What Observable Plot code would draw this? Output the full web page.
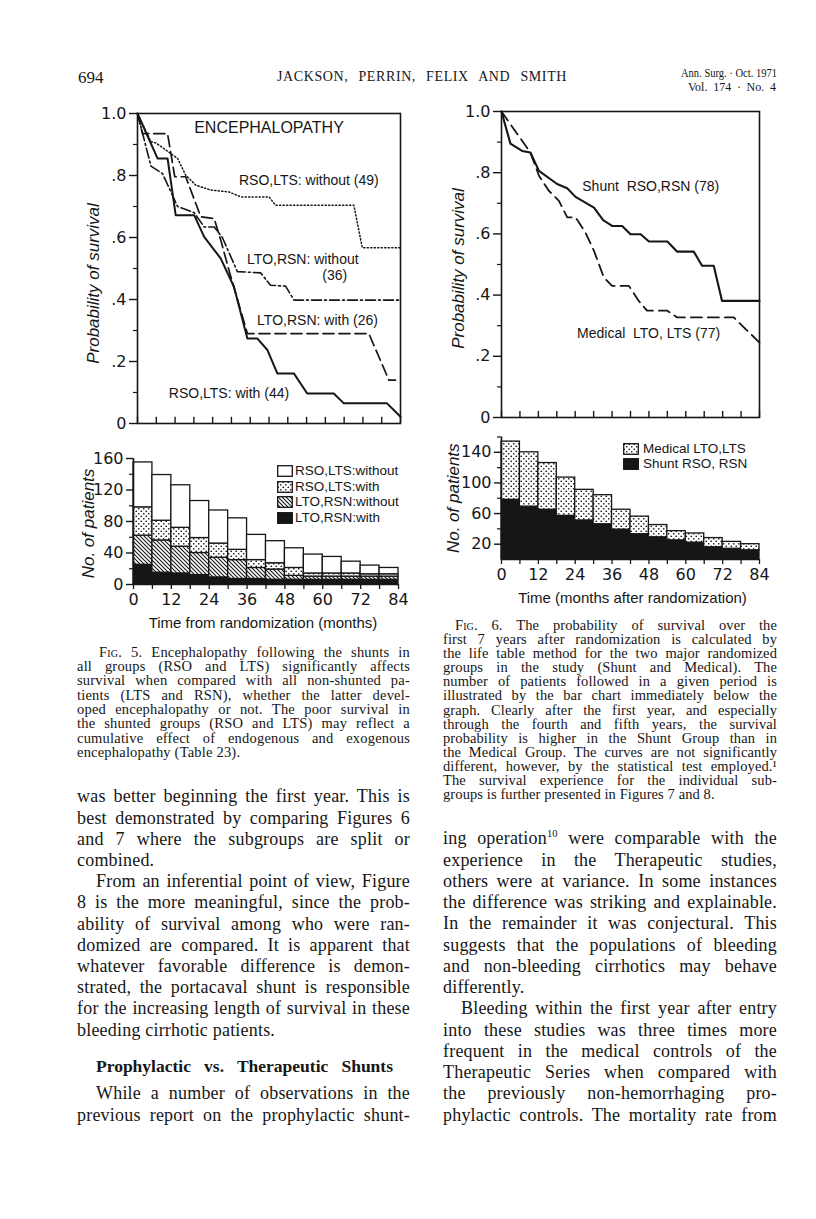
<!DOCTYPE html>
<html><head><meta charset="utf-8">
<script src="https://cdn.jsdelivr.net/npm/d3@7"></script>
<script src="https://cdn.jsdelivr.net/npm/@observablehq/plot@0.6"></script>
<style>
html,body{margin:0;padding:0;background:#fff}
#page{position:relative;width:816px;height:1219px;overflow:hidden;background:#fff;color:#161616}
.sw{position:absolute}
.lg{position:absolute;font-family:"Liberation Sans",sans-serif;font-size:13.5px;white-space:nowrap;line-height:14px;color:#161616}
</style></head>
<body><div id="page">
<svg width="0" height="0" style="position:absolute;left:0;top:0">
 <defs>
  <pattern id="hatch" patternUnits="userSpaceOnUse" width="4" height="4">
    <rect width="4" height="4" fill="white"/>
    <path d="M-1,-1 L5,5 M3,-1 L5,1 M-1,3 L1,5" stroke="#161616" stroke-width="1.1"/>
  </pattern>
  <pattern id="dots" patternUnits="userSpaceOnUse" width="5" height="5">
    <rect width="5" height="5" fill="white"/>
    <circle cx="1.25" cy="1.25" r="0.85" fill="#161616"/>
    <circle cx="3.75" cy="3.75" r="0.85" fill="#161616"/>
  </pattern>
 </defs>
</svg>
</div>
<script>
// ---------- DATA ----------
// Fig. 5 survival curves (months, probability)
const rsoLtsWithoutT = [0, 4.3, 5.9, 12.8, 15.4, 18.6, 23.4, 29.2, 33, 42, 44.1, 69.1, 71.8, 84];
const rsoLtsWithoutS = [1, .909, .905, .855, .801, .769, .753, .747, .731, .731, .704, .704, .567, .567];
const ltoRsnWithoutT = [0, 4.3, 8, 12.8, 18.1, 21.3, 24.5, 27.1, 31.9, 39.3, 42.5, 47.3, 50, 84];
const ltoRsnWithoutS = [1, .83, .806, .70, .68, .634, .634, .60, .49, .486, .446, .443, .398, .398];
const ltoRsnWithT = [0, 1.6, 9.6, 11.9, 15.4, 20.2, 24.5, 26.6, 29.2, 35.1, 73.9, 80.3, 82.4];
const ltoRsnWithS = [1, .935, .935, .796, .796, .667, .661, .591, .495, .29, .29, .14, .14];
const rsoLtsWithT = [0, 6.4, 9.6, 12.2, 18.1, 21.3, 26.6, 30.8, 35.1, 38.3, 41.5, 44.7, 50, 54.2, 62.7, 65.9, 79.7, 84];
const rsoLtsWithS = [1, .855, .855, .672, .672, .602, .532, .441, .274, .274, .237, .161, .161, .097, .097, .065, .065, .022];

// Fig. 5 curve labels
const labels5 = ["RSO,LTS: without (49)", "LTO,RSN: without", "(36)", "LTO,RSN: with (26)", "RSO,LTS: with (44)"];
const labels5T = [32.4, 35.0, 59.0, 38.2, 10.0];
const labels5S = [.784, .53, .476, .332, .096];
const title5 = "ENCEPHALOPATHY";

// Fig. 5 bar chart: number of patients per 6-month interval
const intervalStart = [0, 6, 12, 18, 24, 30, 36, 42, 48, 54, 60, 66, 72, 78];
const ltoRsnWithN    = [25, 15, 14, 12, 9, 7, 7, 6, 6, 6, 6, 6, 6, 6];
const ltoRsnWithoutN = [37, 41, 34, 28, 25, 24, 14, 13, 5, 4, 4, 4, 4, 4];
const rsoLtsWithN    = [36, 25, 24, 19, 18, 13, 10, 8, 10, 4, 4, 4, 3, 3];
const rsoLtsWithoutN = [57, 58, 54, 47, 42, 40, 32, 28, 25, 24, 21, 15, 11, 8];
const legend5 = ["RSO,LTS:without", "RSO,LTS:with", "LTO,RSN:without", "LTO,RSN:with"];

// Fig. 6 survival curves
const shuntT = [0, 2.9, 6.7, 9.4, 12.2, 18.1, 21.4, 24.1, 30.1, 33.1, 36, 39.3, 42, 45.3, 48, 54, 57.2, 62.6, 65.3, 69.1, 71.8, 84];
const shuntS = [1, .895, .871, .866, .806, .763, .749, .721, .686, .645, .626, .626, .599, .599, .575, .575, .542, .542, .496, .496, .381, .381];
const medicalT = [0, 9.4, 12.2, 15.4, 18.7, 21.4, 24.1, 27.3, 30.1, 33.3, 36, 41.5, 44.7, 47.4, 54, 57.2, 75.6, 84];
const medicalS = [1, .866, .79, .741, .708, .654, .654, .605, .545, .458, .43, .43, .381, .349, .349, .327, .327, .245];
const labels6 = ["Shunt  RSO,RSN (78)", "Medical  LTO, LTS (77)"];
const labels6T = [26.3, 24.6];
const labels6S = [.755, .275];

// Fig. 6 bar chart
const shuntN   = [78, 69, 65, 57, 51, 46, 39, 33, 29, 25, 22, 16, 14, 12];
const medicalN = [76, 71, 61, 50, 40, 38, 26, 23, 16, 12, 12, 12, 9, 8];
const legend6 = ["Medical  LTO,LTS", "Shunt  RSO, RSN"];

// Axis ticks and titles
const monthTicks = [0, 6, 12, 18, 24, 30, 36, 42, 48, 54, 60, 66, 72, 78, 84];
const survMajor = [0, .2, .4, .6, .8, 1];
const survMinor = [.1, .3, .5, .7, .9];
const bar5Major = [0, 40, 80, 120, 160];
const bar5Minor = [20, 60, 100, 140];
const bar6Major = [20, 60, 100, 140];
const bar6Minor = [40, 80, 120, 160];
const ySurvTitle = "Probability of survival";
const yBarTitle = "No. of patients";
const x5Title = "Time from randomization (months)";
const x6Title = "Time (months after randomization)";

// Page text
const headerLeft = "694";
const headerMid = "JACKSON, PERRIN, FELIX AND SMITH";
const headerRight1 = "Ann. Surg. · Oct. 1971";
const headerRight2 = "Vol. 174 · No. 4";
const caption5 = [
 ["<span style='font-variant:small-caps'>Fig.</span> 5. Encephalopathy following the shunts in","i"],
 ["all groups (RSO and LTS) significantly affects","j"],
 ["survival when compared with all non-shunted pa-","j"],
 ["tients (LTS and RSN), whether the latter devel-","j"],
 ["oped encephalopathy or not. The poor survival in","j"],
 ["the shunted groups (RSO and LTS) may reflect a","j"],
 ["cumulative effect of endogenous and exogenous","j"],
 ["encephalopathy (Table 23).","l"]];
const caption6 = [
 ["<span style='font-variant:small-caps'>Fig.</span> 6. The probability of survival over the","i"],
 ["first 7 years after randomization is calculated by","j"],
 ["the life table method for the two major randomized","j"],
 ["groups in the study (Shunt and Medical). The","j"],
 ["number of patients followed in a given period is","j"],
 ["illustrated by the bar chart immediately below the","j"],
 ["graph. Clearly after the first year, and especially","j"],
 ["through the fourth and fifth years, the survival","j"],
 ["probability is higher in the Shunt Group than in","j"],
 ["the Medical Group. The curves are not significantly","j"],
 ["different, however, by the statistical test employed.¹","j"],
 ["The survival experience for the individual sub-","j"],
 ["groups is further presented in Figures 7 and 8.","l"]];
const bodyLeft = [
 ["was better beginning the first year. This is","j"],
 ["best demonstrated by comparing Figures 6","j"],
 ["and 7 where the subgroups are split or","j"],
 ["combined.","l"],
 ["From an inferential point of view, Figure","i"],
 ["8 is the more meaningful, since the prob-","j"],
 ["ability of survival among who were ran-","j"],
 ["domized are compared. It is apparent that","j"],
 ["whatever favorable difference is demon-","j"],
 ["strated, the portacaval shunt is responsible","j"],
 ["for the increasing length of survival in these","j"],
 ["bleeding cirrhotic patients.","l"]];
const heading = "Prophylactic vs. Therapeutic Shunts";
const bodyLeft2 = [
 ["While a number of observations in the","i"],
 ["previous report on the prophylactic shunt-","j"]];
const bodyRight = [
 ["ing operation<sup style='font-size:58%;line-height:0'>10</sup> were comparable with the","j"],
 ["experience in the Therapeutic studies,","j"],
 ["others were at variance. In some instances","j"],
 ["the difference was striking and explainable.","j"],
 ["In the remainder it was conjectural. This","j"],
 ["suggests that the populations of bleeding","j"],
 ["and non-bleeding cirrhotics may behave","j"],
 ["differently.","l"],
 ["Bleeding within the first year after entry","i"],
 ["into these studies was three times more","j"],
 ["frequent in the medical controls of the","j"],
 ["Therapeutic Series when compared with","j"],
 ["the previously non-hemorrhaging pro-","j"],
 ["phylactic controls. The mortality rate from","j"]];

// ---------- HELPERS ----------
const page = document.getElementById("page");
const ink = "#161616";
function put(node, left, top) {
  node.style.position = "absolute"; node.style.left = left + "px"; node.style.top = top + "px";
  page.appendChild(node);
}
function textLine(html, left, yc, width, fs, o = {}) {
  const lh = o.lh || Math.round(fs * 1.25);
  const div = document.createElement("div");
  div.style.cssText = `position:absolute;left:${left}px;top:${yc - lh / 2}px;font-size:${fs}px;line-height:${lh}px;white-space:nowrap;font-family:${o.font || '"Liberation Serif", serif'};color:${ink};`;
  if (o.weight) div.style.fontWeight = o.weight;
  if (o.ls) div.style.letterSpacing = o.ls + "px";
  const span = document.createElement("span");
  span.innerHTML = html;
  div.appendChild(span);
  page.appendChild(div);
  const w = span.getBoundingClientRect().width;
  if (o.justify && width) {
    if (w > width) { div.style.transformOrigin = "0 50%"; div.style.transform = `scaleX(${width / w})`; }
    else {
      const n = (span.textContent.match(/ /g) || []).length;
      if (n) span.style.wordSpacing = ((width - w) / n) + "px";
    }
  }
  return div;
}
function block(lines, left, width, y0, step, fs, indent, ls) {
  lines.forEach(([t, f], i) => {
    const ind = f.startsWith("i") ? indent : 0;
    textLine(t, left + ind, y0 + i * step, width - ind, fs, {justify: f !== "l", lh: step, ls});
  });
}
const pts = (T, S) => T.map((t, i) => ({t, s: S[i]}));
const survFormat = d => d === 1 ? "1.0" : d === 0 ? "0" : String(d).replace(/^0/, "");
const baseStyle = {fontFamily: "DejaVu Sans", fontSize: "16px", color: ink, background: "transparent", overflow: "visible"};
const lbl = {fontFamily: "Liberation Sans", fontSize: 14, fill: ink};
const yTitle = {text: d => d, frameAnchor: "left", rotate: -90, textAnchor: "middle", lineAnchor: "middle", fontFamily: "Liberation Sans", fontStyle: "italic", fontSize: 17, fill: ink};
const xTitle = {text: d => d, frameAnchor: "bottom", textAnchor: "middle", lineAnchor: "middle", fontFamily: "Liberation Sans", fontSize: 15, fill: ink};

// ---------- FIG 5 SURVIVAL ----------
const lab5 = labels5.map((label, i) => ({label, t: labels5T[i], s: labels5S[i]}));
const fig5 = Plot.plot({
  width: 380, height: 353, marginLeft: 97, marginRight: 20, marginTop: 23, marginBottom: 20,
  style: baseStyle,
  x: {domain: [0, 84], axis: null}, y: {domain: [0, 1]},
  marks: [
    Plot.frame({stroke: ink, strokeWidth: 1.6}),
    Plot.axisY(survMajor, {tickFormat: survFormat, tickSize: 8, tickPadding: 3, label: null, strokeWidth: 1.4}),
    Plot.axisY(survMinor, {tickFormat: () => "", tickSize: 4, label: null, strokeWidth: 1.2}),
    Plot.ruleX(monthTicks, {y1: 0, y2: 0.02, stroke: ink, strokeWidth: 1.4}),
    Plot.line(pts(rsoLtsWithoutT, rsoLtsWithoutS), {x: "t", y: "s", stroke: ink, strokeWidth: 1.5, strokeDasharray: "1.2,2.3"}),
    Plot.line(pts(ltoRsnWithoutT, ltoRsnWithoutS), {x: "t", y: "s", stroke: ink, strokeWidth: 1.6, strokeDasharray: "10,3,2,3"}),
    Plot.line(pts(ltoRsnWithT, ltoRsnWithS), {x: "t", y: "s", stroke: ink, strokeWidth: 1.7, strokeDasharray: "11,5"}),
    Plot.line(pts(rsoLtsWithT, rsoLtsWithS), {x: "t", y: "s", stroke: ink, strokeWidth: 2}),
    Plot.text(lab5, {x: "t", y: "s", text: "label", textAnchor: "start", ...lbl}),
    Plot.text([title5], {text: d => d, frameAnchor: "top", lineAnchor: "middle", dy: 14, fontFamily: "Liberation Sans", fontSize: 16, fill: ink}),
    Plot.text([ySurvTitle], {...yTitle, dx: -44, dy: 15})
  ]
});
put(fig5, 40, 90);

// ---------- FIG 5 BARS ----------
const fills5 = ["#161616", "url(#hatch)", "url(#dots)", "white"];
const comps5 = [ltoRsnWithN, ltoRsnWithoutN, rsoLtsWithN, rsoLtsWithoutN];
const rows5 = [];
intervalStart.forEach((t0, i) => {
  let acc = 0;
  comps5.forEach((arr, k) => { rows5.push({t0, t1: t0 + 6, y0: acc, y1: acc + arr[i], fill: fills5[k]}); acc += arr[i]; });
});
const bars5 = Plot.plot({
  width: 378, height: 204, marginLeft: 93, marginRight: 20, marginTop: 18, marginBottom: 60,
  style: baseStyle,
  x: {domain: [0, 84]}, y: {domain: [0, 160]}, color: {type: "identity"},
  marks: [
    Plot.rect(rows5, {x1: "t0", x2: "t1", y1: "y0", y2: "y1", fill: "fill", stroke: ink, strokeWidth: 1.3}),
    Plot.ruleY([0], {stroke: ink, strokeWidth: 1.6}),
    Plot.ruleX([0], {y1: 0, y2: 160, stroke: ink, strokeWidth: 1.6}),
    Plot.axisY(bar5Major, {tickSize: 7, tickPadding: 3, label: null, strokeWidth: 1.4}),
    Plot.axisY(bar5Minor, {tickSize: 4, tickFormat: () => "", label: null, strokeWidth: 1.2}),
    Plot.axisX(monthTicks, {tickSize: 5, tickPadding: 4, tickFormat: d => d % 12 === 0 ? d : "", label: null, strokeWidth: 1.3}),
    Plot.text([yBarTitle], {...yTitle, dx: -45, dy: 2}),
    Plot.text([x5Title], {...xTitle, dy: 39, dx: -3, letterSpacing: "1.2px"})
  ]
});
put(bars5, 40, 440);

// ---------- FIG 6 SURVIVAL ----------
const lab6 = labels6.map((label, i) => ({label, t: labels6T[i], s: labels6S[i]}));
const fig6 = Plot.plot({
  width: 379, height: 346, marginLeft: 101, marginRight: 20, marginTop: 21, marginBottom: 19,
  style: baseStyle,
  x: {domain: [0, 84], axis: null}, y: {domain: [0, 1]},
  marks: [
    Plot.frame({stroke: ink, strokeWidth: 1.6}),
    Plot.axisY(survMajor, {tickFormat: survFormat, tickSize: 8, tickPadding: 3, label: null, strokeWidth: 1.4}),
    Plot.axisY(survMinor, {tickFormat: () => "", tickSize: 4, label: null, strokeWidth: 1.2}),
    Plot.ruleX(monthTicks, {y1: 0, y2: 0.02, stroke: ink, strokeWidth: 1.4}),
    Plot.line(pts(medicalT, medicalS), {x: "t", y: "s", stroke: ink, strokeWidth: 1.8, strokeDasharray: "11,6"}),
    Plot.line(pts(shuntT, shuntS), {x: "t", y: "s", stroke: ink, strokeWidth: 2.1}),
    Plot.text(lab6, {x: "t", y: "s", text: "label", textAnchor: "start", ...lbl}),
    Plot.text([ySurvTitle], {...yTitle, dx: -43, dy: 4})
  ]
});
put(fig6, 400, 90);

// ---------- FIG 6 BARS ----------
const rows6 = [];
intervalStart.forEach((t0, i) => {
  rows6.push({t0, t1: t0 + 6, y0: 0, y1: shuntN[i], fill: "#161616"});
  rows6.push({t0, t1: t0 + 6, y0: shuntN[i], y1: shuntN[i] + medicalN[i], fill: "url(#dots)"});
});
const bars6 = Plot.plot({
  width: 379, height: 194, marginLeft: 101, marginRight: 20, marginTop: 11.5, marginBottom: 60,
  style: baseStyle,
  x: {domain: [0, 84]}, y: {domain: [0, 160]}, color: {type: "identity"},
  marks: [
    Plot.rect(rows6, {x1: "t0", x2: "t1", y1: "y0", y2: "y1", fill: "fill", stroke: ink, strokeWidth: 1.3}),
    Plot.ruleY([0], {stroke: ink, strokeWidth: 1.6}),
    Plot.ruleX([0], {y1: 0, y2: 160, stroke: ink, strokeWidth: 1.6}),
    Plot.axisY(bar6Major, {tickSize: 7, tickPadding: 3, label: null, strokeWidth: 1.4}),
    Plot.axisY(bar6Minor, {tickSize: 4, tickFormat: () => "", label: null, strokeWidth: 1.2}),
    Plot.axisX(monthTicks, {tickSize: 5, tickPadding: 4, tickFormat: d => d % 12 === 0 ? d : "", label: null, strokeWidth: 1.3}),
    Plot.text([yBarTitle], {...yTitle, dx: -48, dy: 0}),
    Plot.text([x6Title], {...xTitle, dy: 39, dx: 2, letterSpacing: "1.3px"})
  ]
});
put(bars6, 400, 425);

// ---------- LEGENDS ----------
function legend(names, fills, swLeft, txtLeft, ys) {
  names.forEach((name, i) => {
    const s = document.createElementNS("http://www.w3.org/2000/svg", "svg");
    s.setAttribute("width", 16); s.setAttribute("height", 12); s.setAttribute("class", "sw");
    s.innerHTML = `<rect x="0.7" y="0.7" width="14.6" height="10.6" fill="${fills[i]}" stroke="${ink}" stroke-width="1.3"/>`;
    put(s, swLeft, ys[i] - 6);
    const d = document.createElement("div"); d.className = "lg"; d.textContent = name;
    put(d, txtLeft, ys[i] - 7);
  });
}
legend(legend5, ["white", "url(#dots)", "url(#hatch)", "#161616"], 277, 295, [471, 487, 502, 518]);
legend(legend6, ["url(#dots)", "#161616"], 623, 643, [449, 464]);

// ---------- PAGE TEXT ----------
textLine(headerLeft, 78, 77, 0, 17);
textLine(headerMid, 277, 77, 290, 14, {justify: true, ls: 0.6});
textLine(headerRight1, 681, 73, 96, 12, {justify: true});
textLine(headerRight2, 688, 87, 88, 12, {justify: true});

block(caption5, 77, 333, 652, 14.3, 14.5, 22, 0.2);
block(caption6, 443, 334, 625, 14.1, 14.5, 12, 0.1);
block(bodyLeft, 77, 333, 797, 21.2, 18, 19, 0.2);
textLine(heading, 96, 1066, 297, 17.5, {justify: true, weight: "bold"});
block(bodyLeft2, 77, 333, 1094, 21.2, 18, 19, 0.2);
block(bodyRight, 443, 334, 839, 21.25, 18, 18, 0.2);
</script>
</body></html>
